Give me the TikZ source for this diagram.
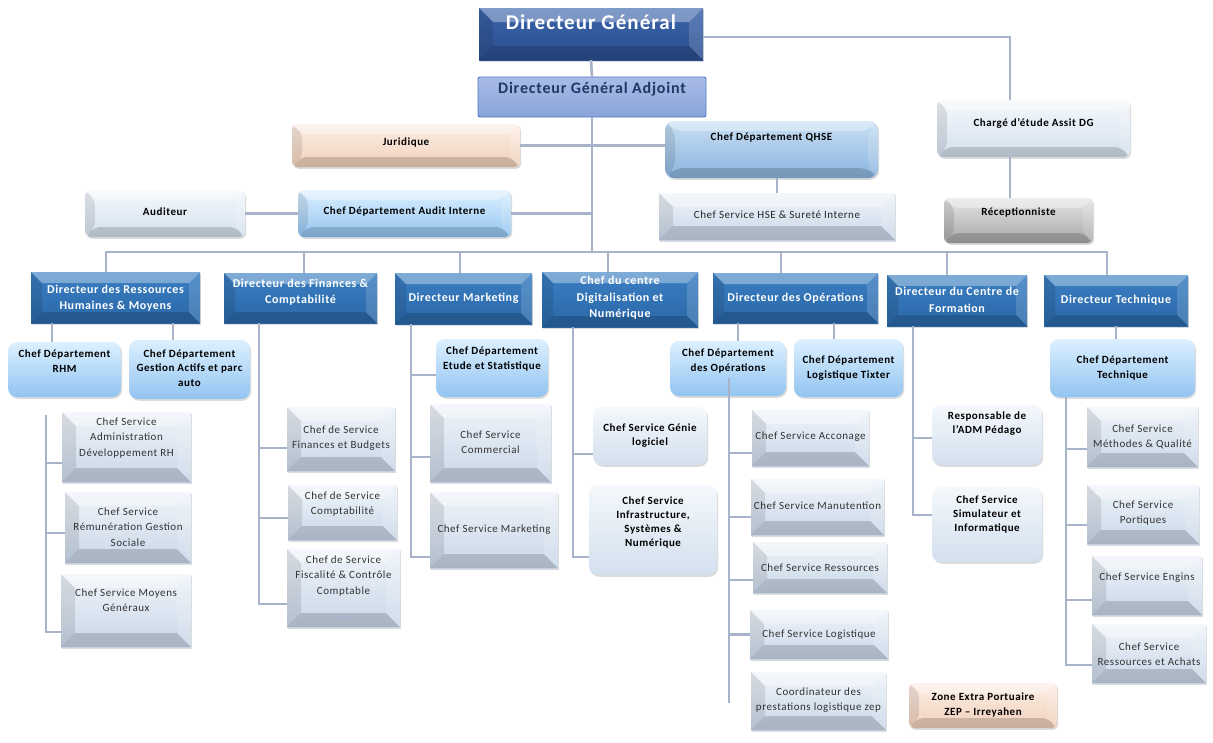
\documentclass[tikz,border=0pt]{standalone}
\usepackage{fontspec}
\setmainfont{Carlito}[LetterSpace=5]
\usetikzlibrary{calc,shadows}

\definecolor{linkc}{HTML}{A7B3C8}
\definecolor{dgtop}{HTML}{3A64AA}\definecolor{dgbot}{HTML}{2B4F8F}
\definecolor{dgatop}{HTML}{A9BCE6}\definecolor{dgabot}{HTML}{8AA3D8}\definecolor{dgaline}{HTML}{4F7BC8}\definecolor{dgatext}{HTML}{1F3864}
\definecolor{dirtop}{HTML}{3A7EC2}\definecolor{dirbot}{HTML}{2A68A8}
\definecolor{depttop}{HTML}{DCF0FF}\definecolor{deptbot}{HTML}{92C4F1}
\definecolor{qhsetop}{HTML}{C8DFF3}\definecolor{qhsebot}{HTML}{8AB4DE}
\definecolor{svctop}{HTML}{EFF4FA}\definecolor{svcbot}{HTML}{C9D7E8}
\definecolor{paletop}{HTML}{F4F8FC}\definecolor{palebot}{HTML}{D3E0EE}
\definecolor{peachtop}{HTML}{FCEEE5}\definecolor{peachbot}{HTML}{F1D0BA}
\definecolor{greytop}{HTML}{E4E4E4}\definecolor{greybot}{HTML}{A8A8A8}
\definecolor{svctext}{HTML}{333333}

% corner bevel: light top band, dark bottom band, diagonal creases
\newcommand\bevelbands[1]{%
  \coordinate (pnw) at (path picture bounding box.north west);
  \coordinate (pne) at (path picture bounding box.north east);
  \coordinate (psw) at (path picture bounding box.south west);
  \coordinate (pse) at (path picture bounding box.south east);
  \fill[white,opacity=.35] (pnw) -- (pne) -- ($(pne)+(-#1,#1)$) -- ($(pnw)+(#1,#1)$) -- cycle;
  \fill[black,opacity=.10] (pnw) -- ($(pnw)+(#1,#1)$) -- ($(psw)+(#1,-#1)$) -- (psw) -- cycle;
  \fill[black,opacity=.16] (psw) -- ($(psw)+(#1,-#1)$) -- ($(pse)+(-#1,-#1)$) -- (pse) -- cycle;
  \fill[white,opacity=.15] (pne) -- (pse) -- ($(pse)+(-#1,-#1)$) -- ($(pne)+(-#1,#1)$) -- cycle;
}

\tikzset{
  link/.style={draw=linkc, line width=2.6pt},
  bevel/.style={path picture={\bevelbands{#1}}},
  bevel/.default=12,
  base/.style={inner sep=0pt, outer sep=0pt},
  shad/.style={drop shadow={shadow xshift=1.2pt, shadow yshift=-1.8pt, opacity=.28}},
  txt/.style={align=center, inner sep=0pt, font=\fontsize{11}{15.5}\selectfont},
  % box looks
  dg/.style={base, shad, top color=dgtop, bottom color=dgbot, bevel=14},
  dga/.style={base, top color=dgatop, bottom color=dgabot, draw=dgaline, line width=.9pt, rounded corners=2pt},
  dir/.style={base, shad, top color=dirtop, bottom color=dirbot, bevel=11},
  dept/.style={base, shad, top color=depttop, bottom color=deptbot, rounded corners=9pt},
  qhse/.style={base, shad, top color=qhsetop, bottom color=qhsebot, rounded corners=9pt, bevel=10},
  audit/.style={base, shad, top color=depttop, bottom color=deptbot, rounded corners=6pt, bevel=10},
  svc/.style={base, shad, top color=svctop, bottom color=svcbot, bevel=14},
  pale/.style={base, shad, top color=paletop, bottom color=palebot, rounded corners=6pt, bevel=10},
  palebold/.style={base, shad, top color=paletop, bottom color=palebot, rounded corners=9pt},
  peach/.style={base, shad, top color=peachtop, bottom color=peachbot, rounded corners=5pt, bevel=10},
  grey/.style={base, shad, top color=greytop, bottom color=greybot, rounded corners=5pt, bevel=10},
  % matching text looks
  dg txt/.style={txt, text=white, font=\fontsize{21}{24}\selectfont\bfseries},
  dga txt/.style={txt, text=dgatext, font=\fontsize{16}{19}\selectfont\bfseries},
  dir txt/.style={txt, text=white, font=\fontsize{12}{16.5}\selectfont\bfseries},
  dept txt/.style={txt, text=black, font=\fontsize{11}{14.5}\selectfont\bfseries},
  qhse txt/.style={dept txt},
  audit txt/.style={dept txt},
  svc txt/.style={txt, text=svctext},
  pale txt/.style={dept txt},
  palebold txt/.style={txt, text=black, font=\fontsize{11}{14}\selectfont\bfseries},
  peach txt/.style={dept txt},
  grey txt/.style={dept txt},
}

% \orgbox{look}{name}{x1}{y1}{x2}{y2}{text y}{text}
\newcommand\orgbox[8]{%
  \node[#1, minimum width={#5-#3}, minimum height={#6-#4}] (#2) at ({(#3+#5)/2},{(#4+#6)/2}) {};
  \node[#1 txt] (#2-t) at ({(#3+#5)/2},#7) {#8};}

% vertical connector from a (shifted) anchor up to the level of another anchor
\newcommand\vlink[2]{\path #1 coordinate (vtmp); \draw[link] (vtmp) -- (vtmp |- #2);}

\begin{document}
\begin{tikzpicture}[x=1pt, y=-1pt]
\fill[white] (0,0) rectangle (1213,742);
\useasboundingbox (0,0) rectangle (1213,742);

% ---- top management
\orgbox{dg}{dg}{479}{8}{703}{60}{22}{Directeur Général}
\orgbox{dga}{dga}{478}{77}{706}{117}{89}{Directeur Général Adjoint}
\orgbox{peach}{jur}{292}{124}{520}{167}{143}{Juridique}
\orgbox{qhse}{qhse}{665}{121}{878}{178}{138}{Chef Département QHSE}
\orgbox{pale}{aud}{85}{190}{245}{237}{212}{Auditeur}
\orgbox{audit}{audit}{298}{190}{511}{237}{212}{Chef Département Audit Interne}
\orgbox{svc}{hse}{659}{193}{895}{240}{215}{\textcolor{black!85}{Chef Service HSE \& Sureté Interne}}
\orgbox{pale}{charge}{937}{100}{1130}{157}{123}{Chargé d’étude Assit DG}
\orgbox{grey}{recep}{944}{198}{1093}{243}{212}{Réceptionniste}

% ---- directors
\orgbox{dir}{drh}{31}{272}{200}{323}{298}{Directeur des Ressources\\Humaines \& Moyens}
\orgbox{dir}{dfc}{224}{273}{377}{323}{292}{Directeur des Finances \&\\Comptabilité}
\orgbox{dir}{dm}{395}{273}{532}{324}{298}{Directeur Marketing}
\orgbox{dir}{dcd}{542}{272}{698}{327}{298}{Chef du centre\\Digitalisation et\\Numérique}
\orgbox{dir}{dop}{713}{273}{878}{323}{298}{Directeur des Opérations}
\orgbox{dir}{dcf}{887}{275}{1027}{326}{300}{Directeur du Centre de\\Formation}
\orgbox{dir}{dt}{1044}{275}{1188}{326}{300}{Directeur Technique}

% ---- departments
\orgbox{dept}{rhm}{8}{342}{121}{397}{361}{Chef Département\\RHM}
\orgbox{dept}{gap}{129}{340}{250}{399}{368}{Chef Département\\Gestion Actifs et parc\\auto}
\orgbox{dept}{etu}{436}{339}{548}{397}{359}{Chef Département\\Etude et Statistique}
\orgbox{dept}{cdo}{670}{341}{786}{396}{361}{Chef Département\\des Opérations}
\orgbox{dept}{tix}{794}{339}{903}{397}{368}{Chef Département\\Logistique Tixter}
\orgbox{dept}{cdt}{1050}{339}{1195}{397}{368}{Chef Département\\Technique}

% ---- services
\orgbox{svc}{adm}{62}{412}{191}{482}{438}{Chef Service\\Administration\\Développement RH}
\orgbox{svc}{rem}{65}{492}{191}{563}{527}{Chef Service\\Rémunération Gestion\\Sociale}
\orgbox{svc}{moy}{61}{574}{191}{647}{600}{Chef Service Moyens\\Généraux}
\orgbox{svc}{fin}{287}{407}{395}{471}{438}{Chef de Service\\Finances et Budgets}
\orgbox{svc}{cpt}{288}{485}{397}{540}{504}{Chef de Service\\Comptabilité}
\orgbox{svc}{fis}{287}{549}{400}{627}{576}{Chef de Service\\Fiscalité \& Contrôle\\Comptable}
\orgbox{svc}{com}{430}{404}{551}{482}{442}{Chef Service\\Commercial}
\orgbox{svc}{mks}{430}{492}{558}{568}{530}{Chef Service Marketing}
\orgbox{palebold}{gen}{593}{407}{707}{465}{436}{Chef Service Génie\\logiciel}
\orgbox{palebold}{inf}{589}{485}{717}{575}{522}{Chef Service\\Infrastructure,\\Systèmes \&\\Numérique}
\orgbox{svc}{acc}{752}{410}{869}{466}{437}{Chef Service Acconage}
\orgbox{svc}{man}{751}{479}{884}{535}{506}{Chef Service Manutention}
\orgbox{svc}{res}{753}{542}{887}{593}{568}{Chef Service Ressources}
\orgbox{svc}{log}{750}{610}{888}{659}{635}{Chef Service Logistique}
\orgbox{svc}{coo}{751}{672}{886}{730}{700}{Coordinateur des\\prestations logistique zep}
\orgbox{palebold}{adp}{932}{405}{1042}{465}{424}{Responsable de\\l’ADM Pédago}
\orgbox{palebold}{sim}{932}{487}{1042}{562}{514}{Chef Service\\Simulateur et\\Informatique}
\orgbox{svc}{met}{1087}{407}{1198}{467}{437}{Chef Service\\Méthodes \& Qualité}
\orgbox{svc}{por}{1087}{485}{1199}{544}{513}{Chef Service\\Portiques}
\orgbox{svc}{eng}{1092}{556}{1202}{615}{578}{Chef Service Engins}
\orgbox{svc}{ach}{1092}{624}{1206}{683}{654}{Chef Service\\Ressources et Achats}
\orgbox{peach}{zep}{909}{683}{1057}{728}{705}{Zone Extra Portuaire\\ZEP – Irreyahen}

% small rule at the foot of the tax box
\draw[linkc, line width=1.2pt] ([shift={(-11,29)}]fis.center) -- ++(22,0);

% ---- connectors: top
\coordinate (bus) at (592,252);
\draw[link] (dg.south) -- (dga.north);
\draw[link] (dga.south) -- (bus);
\draw[link] (jur.east) -- (jur.east -| qhse.west);
\draw[link] (audit.east) -- (audit.east -| bus);
\draw[link] (aud.east) -- (audit.west);
\draw[link] (hse.north) -- (hse.north |- qhse.south);
\draw[link] ([yshift=-3]dg.east) -| ([xshift=-23.5]charge.north);
\vlink{([xshift=-23.5]charge.south)}{recep.north}

% ---- connectors: bus to directors
\draw[link] ([xshift=-9.5]drh.north) |- (bus);
\draw[link] ([xshift=3.5]dfc.north) |- (bus);
\draw[link] ([xshift=-3.5]dm.north) |- (bus);
\draw[link] ([xshift=-12]dcd.north) |- (bus);
\draw[link] ([xshift=-14.5]dop.north) |- (bus);
\draw[link] ([xshift=-10]dcf.north) |- (bus);
\draw[link] ([xshift=-9]dt.north) |- (bus);

% ---- human resources
\vlink{([xshift=-12.5]rhm.north)}{drh.south}
\vlink{([xshift=-16.5]gap.north)}{drh.south}
\coordinate (rhs) at (46,415);
\draw[link] (rhs) |- ([yshift=-16]adm.west);
\draw[link] (rhs) |- ([yshift=-5.5]rem.west);
\draw[link] (rhs) |- ([yshift=-21.5]moy.west);

% ---- finance
\path ([xshift=-41.5]dfc.south) coordinate (fs);
\draw[link] (fs) |- ([yshift=-9]fin.west);
\draw[link] (fs) |- ([yshift=-5.5]cpt.west);
\draw[link] (fs) |- ([yshift=-16]fis.west);

% ---- marketing
\path ([xshift=-52.5]dm.south) coordinate (ms);
\draw[link] (ms) |- ([yshift=-7]etu.west);
\draw[link] (ms) |- ([yshift=-14]com.west);
\draw[link] (ms) |- ([yshift=-27]mks.west);

% ---- digital
\path ([xshift=-47]dcd.south) coordinate (ds);
\draw[link] (ds) |- ([yshift=-18]gen.west);
\draw[link] (ds) |- ([yshift=-27]inf.west);

% ---- operations
\vlink{([xshift=10]cdo.north)}{dop.south}
\vlink{([xshift=-14.5]tix.north)}{dop.south}
\path ([xshift=1,yshift=18]cdo.south) coordinate (os);
\coordinate (osend) at (729,703);
\draw[link] (os) -- (osend);
\draw[link] (os) |- ([yshift=-15]acc.west);
\draw[link] (os) |- ([yshift=-10]man.west);
\draw[link] (os) |- ([yshift=-12.5]res.west);
\draw[link] (os) |- (log.west);

% ---- training centre
\path ([xshift=-44]dcf.south) coordinate (cs);
\draw[link] (cs) |- ([yshift=-3]adp.west);
\draw[link] (cs) |- ([yshift=9.5]sim.west);

% ---- technical
\draw[link] (dt.south) -- (dt.south |- cdt.north);
\path ([xshift=-56.5]cdt.south) coordinate (ts);
\draw[link] (ts) |- ([yshift=-12]met.west);
\draw[link] (ts) |- ([yshift=-10.5]por.west);
\draw[link] (ts) |- ([yshift=-14.5]eng.west);
\draw[link] (ts) |- ([yshift=-11.5]ach.west);
\end{tikzpicture}
\end{document}
